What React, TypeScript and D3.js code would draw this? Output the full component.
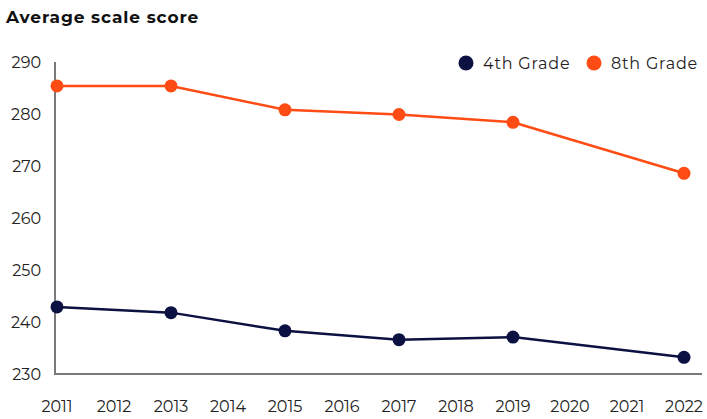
import React from "react";
import * as d3 from "d3";

const years = [2011, 2013, 2015, 2017, 2019, 2022];
const grade4 = [242.9, 241.8, 238.3, 236.6, 237.1, 233.2];
const grade8 = [285.4, 285.4, 280.8, 279.9, 278.4, 268.6];
const xTicks = [2011, 2012, 2013, 2014, 2015, 2016, 2017, 2018, 2019, 2020, 2021, 2022];
const yTicks = [230, 240, 250, 260, 270, 280, 290];
const seriesNames = ["4th Grade", "8th Grade"];
const colors = ["#0b1140", "#ff4b14"];

const W = 707, H = 419;
const FONT = "Montserrat, 'Open Sans', 'Noto Sans', sans-serif";

export default function App() {
  const x = d3.scaleLinear().domain([2011, 2022]).range([57, 684]);
  const y = d3.scaleLinear().domain([230, 290]).range([374, 62]);
  const line = d3.line<number>().x((_, i) => x(years[i])).y((d) => y(d));
  const series = [grade4, grade8];
  return (
    <svg width={W} height={H} style={{ position: "absolute", left: 0, top: 0, fontFamily: FONT }}>
      <rect width={W} height={H} fill="#fff" />
      <text x={6} y={23} fontSize={17} fontWeight={700} fill="#111" letterSpacing={0.9}>Average scale score</text>
      {yTicks.map((t) => (
        <text key={t} x={41} y={y(t)} dy="0.36em" textAnchor="end" fontSize={16} fill="#222">{t}</text>
      ))}
      {xTicks.map((t) => (
        <text key={t} x={x(t)} y={412} textAnchor="middle" fontSize={16} fill="#222">{t}</text>
      ))}
      <line x1={55} x2={55} y1={62} y2={375} stroke="#7a7a7a" strokeWidth={2} />
      <line x1={54} x2={702} y1={374} y2={374} stroke="#7a7a7a" strokeWidth={2} />
      {series.map((s, si) => (
        <g key={si}>
          <path d={line(s) || ""} fill="none" stroke={colors[si]} strokeWidth={2.5} />
          {s.map((v, i) => (
            <circle key={i} cx={x(years[i])} cy={y(v)} r={6.5} fill={colors[si]} />
          ))}
        </g>
      ))}
      {seriesNames.map((n, i) => {
        const lx = [466, 594][i];
        return (
          <g key={n}>
            <circle cx={lx} cy={63} r={7.5} fill={colors[i]} />
            <text x={lx + 17} y={63} dy="0.36em" fontSize={16} fill="#222" letterSpacing={0.8}>{n}</text>
          </g>
        );
      })}
    </svg>
  );
}
